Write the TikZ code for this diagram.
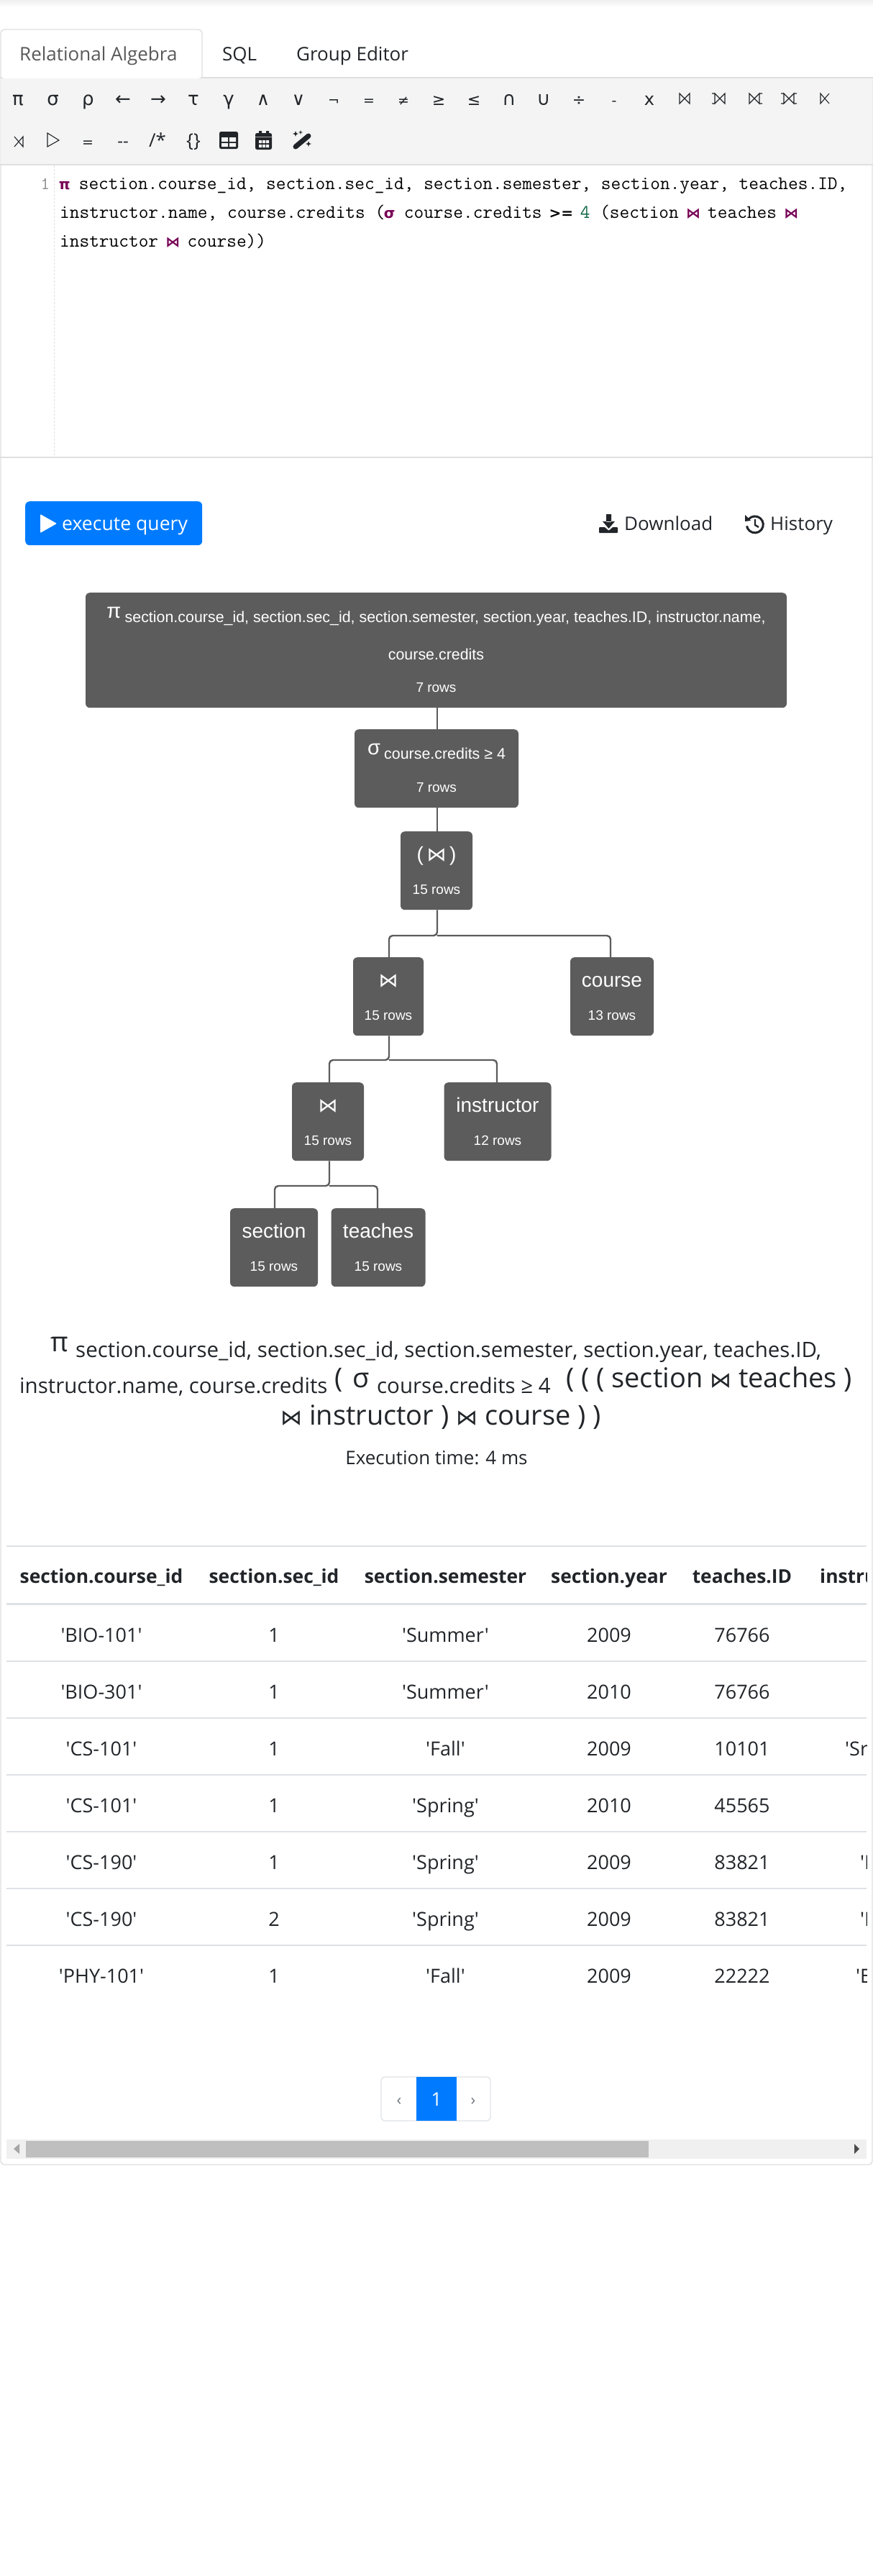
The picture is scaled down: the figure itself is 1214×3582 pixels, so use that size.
\documentclass[tikz,border=0pt]{standalone}
\usepackage{fontspec}
\usepackage{tikz}
\setmainfont{Open Sans}[Ligatures=TeXOff]
\newfontfamily\symfont{DejaVu Sans}
\newfontfamily\treefont{Liberation Sans}
\newcommand{\fs}[1]{\fontsize{#1}{#1}\selectfont}
\newcommand{\kw}[1]{\makebox[0.486em]{\textcolor{kwcolor}{\symfont\bfseries\fontsize{20}{20}\selectfont #1}}}
\newcommand{\oplabel}[2]{\rule{0pt}{41pt}#1\\#2\rule[-22pt]{0pt}{22pt}}
\newcommand{\opjoin}{{\symfont\fontsize{27}{46}\selectfont ⋈}}
\definecolor{kwcolor}{HTML}{770055}
\definecolor{numcolor}{HTML}{116644}
\definecolor{opcolor}{HTML}{5C5C5C}
\definecolor{btncolor}{HTML}{007BFF}
\definecolor{inkcolor}{HTML}{212529}
\definecolor{barcolor}{HTML}{F4F4F4}
\definecolor{edgecolor}{HTML}{DFDFDF}
\definecolor{rulecolor}{HTML}{DEE2E6}
\definecolor{pagecolor}{HTML}{6C757D}

\tikzset{
  txt/.style={anchor=base, inner sep=0pt, text=inkcolor, font=\fs{26}},
  txtl/.style={txt, anchor=base west},
  tool/.style={txt, font=\symfont\fs{26}},
  toolsmall/.style={txt, font=\symfont\fs{19}},
  code/.style={txtl, text=black, font=\ttfamily\fs{26.6}},
  opbox/.style={anchor=north, fill=opcolor, rounded corners=6pt, inner sep=0pt, text=white, align=center, font=\treefont\fontsize{19}{46}\selectfont},
  link/.style={draw=opcolor, line width=2.4pt, rounded corners=5pt},
  head/.style={txt, font=\bfseries\fs{26.4}},
  cell/.style={txt, font=\fs{27}},
  hline/.style={draw=rulecolor, line width=1.3pt},
  joinsym/.style={draw=inkcolor, line width=1.1pt},
  joininner/.pic={\draw[joinsym] (-7,-7) -- (-7,7) -- (7,-7) -- (7,7) -- cycle;},
  joinleft/.pic={\draw[joinsym] (-7,-7) -- (-7,7) -- (7,-7) -- (7,7) -- cycle (-11,-7) -- (-7,-7) (-11,7) -- (-7,7);},
  joinright/.pic={\draw[joinsym] (-7,-7) -- (-7,7) -- (7,-7) -- (7,7) -- cycle (11,-7) -- (7,-7) (11,7) -- (7,7);},
  joinfull/.pic={\draw[joinsym] (-7,-7) -- (-7,7) -- (7,-7) -- (7,7) -- cycle (-11,-7) -- (-7,-7) (-11,7) -- (-7,7) (11,-7) -- (7,-7) (11,7) -- (7,7);},
  semileft/.pic={\draw[joinsym] (6,-7) -- (-6,7) -- (-6,-7) -- (6,7);},
  semiright/.pic={\draw[joinsym] (-6,-7) -- (6,7) -- (6,-7) -- (-6,7);},
  sparkle/.pic={\fill[inkcolor] (0,-4) -- (1,-1) -- (4,0) -- (1,1) -- (0,4) -- (-1,1) -- (-4,0) -- (-1,-1) -- cycle;}
}

\begin{document}
\begin{tikzpicture}[x=1pt,y=-1pt]
\useasboundingbox (0,0) rectangle (1214,3582);
% page frame
\shade[top color=black!6, bottom color=white] (0,0) rectangle (1214,10);
\draw[edgecolor, line width=1.4pt, rounded corners=5pt] (1,108) -- (1,3010) -- (1213,3010) -- (1213,108);
\fill[barcolor] (1,108) rectangle (1213,228);
\draw[edgecolor, line width=1.4pt] (0,108) -- (1214,108) (0,229) -- (1214,229);
\fill[white, rounded corners=5pt] (1,41) -- (1,109) -- (281,109) -- (281,41) -- cycle;
\draw[edgecolor, line width=1.4pt, rounded corners=5pt] (1,108) -- (1,41) -- (281,41) -- (281,108);
\node[txtl, text=black!65] (tab1) at (27,84) {Relational Algebra};
\node[txtl] (tab2) at (309,84) {SQL};
\node[txtl] (tab3) at (412,84) {Group Editor};

% toolbar, first row
\node[tool] (t1) at (25,146) {π};
\node[tool] (t2) at (73.6,146) {σ};
\node[tool] (t3) at (122.4,146) {ρ};
\node[tool] (t4) at (171,146) {←};
\node[tool] (t5) at (220,146) {→};
\node[tool] (t6) at (269,146) {τ};
\node[tool] (t7) at (318,146) {γ};
\node[toolsmall, font=\symfont\fs{25}] (t8) at (366,146) {∧};
\node[toolsmall, font=\symfont\fs{25}] (t9) at (415,146) {∨};
\node[toolsmall] (t10) at (464,146) {¬};
\node[toolsmall] (t11) at (513,146) {=};
\node[toolsmall] (t12) at (561,146) {≠};
\node[toolsmall, font=\symfont\fs{22}] (t13) at (610,146) {≥};
\node[toolsmall, font=\symfont\fs{22}] (t14) at (659,146) {≤};
\node[tool] (t15) at (708,146) {∩};
\node[tool] (t16) at (756,146) {∪};
\node[toolsmall, font=\symfont\fs{22}] (t17) at (805,146) {÷};
\node[toolsmall] (t18) at (854,146) {-};
\node[toolsmall, font=\symfont\fs{24}] (t19) at (903,146) {x};
\pic at (952,137) {joininner};
\pic at (1001,137) {joinleft};
\pic at (1049,137) {joinright};
\pic at (1097,137) {joinfull};
\pic at (1147,137) {semileft};

% toolbar, second row
\pic at (26,197) {semiright};
\draw[inkcolor, line width=1.1pt] (66,185) -- (82,195) -- (66,204) -- cycle;
\node[toolsmall] (t20) at (122,204) {=};
\node[toolsmall, font=\fs{24}] (t21) at (171,204) {--};
\node[tool, font=\fs{26}] (t22) at (219,204) {/*};
\node[tool, font=\fs{26}] (t23) at (269,204) {\{\}};
% table icon
\fill[inkcolor, rounded corners=2.5pt] (305,183) rectangle (331,207);
\fill[barcolor] (308,191) rectangle (317,197) (319,191) rectangle (328,197) (308,199) rectangle (317,204) (319,199) rectangle (328,204);
% calendar icon
\fill[inkcolor, rounded corners=2.5pt] (355,185) rectangle (378,208);
\fill[inkcolor] (360,182) rectangle (364,187) (370,182) rectangle (374,187);
\draw[black!35, line width=1pt] (355,190) -- (378,190);
\fill[barcolor] (360,195) rectangle (364,199) (365,195) rectangle (369,199) (370,195) rectangle (374,199) (360,201) rectangle (364,205) (365,201) rectangle (369,205) (370,201) rectangle (374,205);
% wand icon
\draw[inkcolor, line width=7pt, line cap=round] (411,204) -- (429,189);
\pic at (411,186) {sparkle};
\pic[scale=0.7] at (418,184) {sparkle};
\pic at (429,200) {sparkle};

% editor
\draw[edgecolor, densely dashed, line width=0.8pt] (75,230) -- (75,635);
\draw[edgecolor, line width=1.4pt] (0,636) -- (1214,636);
\node[txt, text=black!45, font=\ttfamily\fs{24.5}] (gutter) at (63,263) {1};
\node[code] (line1) at (83,263) {\kw{π} section.course\_id, section.sec\_id, section.semester, section.year, teaches.ID,};
\node[code] (line2) at (83,303) {instructor.name, course.credits (\kw{σ} course.credits \makebox[0.97em]{\symfont\bfseries\fontsize{20}{20}\selectfont >=} \textcolor{numcolor}{4} (section \kw{⋈} teaches \kw{⋈}};
\node[code] (line3) at (83,343) {instructor \kw{⋈} course))};

% buttons
\node[anchor=north west, fill=btncolor, rounded corners=6pt, minimum width=246pt, minimum height=61pt, inner sep=0pt] (run) at (35,697) {};
\fill[white, rounded corners=1pt] (56,715) -- (79,728) -- (56,741) -- cycle;
\node[txtl, text=white, font=\fs{26.6}] (runtext) at (86,737) {execute query};
% download icon
\fill[inkcolor] (843,715) rectangle (850,726) (838,725) -- (855,725) -- (846.5,735) -- cycle;
\fill[inkcolor, rounded corners=1pt] (833,733) -- (841,733) -- (846.5,738) -- (852,733) -- (859,733) -- (859,741) -- (833,741) -- cycle;
\node[txtl] (download) at (868,737) {Download};
% history icon
\draw[inkcolor, line width=3pt] (1041,722) arc[start angle=-140, end angle=170, radius=11.5];
\fill[inkcolor] (1036,716) -- (1044,724) -- (1036,725) -- cycle;
\draw[inkcolor, line width=2.4pt] (1050,722) -- (1050,730) -- (1055,733);
\node[txtl] (history) at (1071,737) {History};

% operator tree
\node[opbox, minimum width=975pt] (root) at (606.5,824) {\rule{0pt}{41pt}\raisebox{6pt}{\fontsize{29}{46}\selectfont π} {\fontsize{21.4}{46}\selectfont section.course\_id, section.sec\_id, section.semester, section.year, teaches.ID, instructor.name,}\\[6pt]\fontsize{21.4}{46}\selectfont course.credits\\[-1pt]\fontsize{19}{46}\selectfont 7 rows\rule[-22pt]{0pt}{22pt}};
\node[opbox, minimum width=228pt] (sigma) at (607,1014) {\rule{0pt}{41pt}\raisebox{6pt}{\fontsize{29}{46}\selectfont σ} {\fontsize{21.4}{46}\selectfont course.credits ≥ 4}\\7 rows\rule[-22pt]{0pt}{22pt}};
\node[opbox, minimum width=100pt] (j1) at (607,1156) {\oplabel{{\fontsize{28}{46}\selectfont (\,\opjoin\,)}}{15 rows}};
\node[opbox, minimum width=98pt] (j2) at (540,1331) {\oplabel{\opjoin}{15 rows}};
\node[opbox, minimum width=116pt] (course) at (851,1331) {\oplabel{{\fontsize{28}{46}\selectfont course}}{13 rows}};
\node[opbox, minimum width=100pt] (j3) at (456,1505) {\oplabel{\opjoin}{15 rows}};
\node[opbox, minimum width=149pt] (instructor) at (692,1505) {\oplabel{{\fontsize{28}{46}\selectfont instructor}}{12 rows}};
\node[opbox, minimum width=122pt] (section) at (381,1680) {\oplabel{{\fontsize{28}{46}\selectfont section}}{15 rows}};
\node[opbox, minimum width=131pt] (teaches) at (526,1680) {\oplabel{{\fontsize{28}{46}\selectfont teaches}}{15 rows}};

\coordinate (bar1) at (608,1301);
\coordinate (bar2) at (541,1474);
\coordinate (bar3) at (458,1649);

\path[link] (bar1 |- root.south) -- (bar1 |- sigma.north);
\path[link] (bar1 |- sigma.south) -- (bar1 |- j1.north);
\path[link] (bar1 |- j1.south) -- (bar1) -| (bar2 |- j2.north);
\path[link] (bar1) -| ([xshift=-2pt]course.north);
\path[link] (bar2 |- j2.south) -- (bar2) -| (bar3 |- j3.north);
\path[link] (bar2) -| ([xshift=-1pt]instructor.north);
\path[link] (bar3 |- j3.south) -- (bar3) -| ([xshift=1pt]section.north);
\path[link] (bar3) -| ([xshift=-1pt]teaches.north);

% query as text
\node[txtl, font=\fs{38}] (f1) at (70,1879) {π};
\node[txtl, font=\fs{29.5}] (f2) at (105,1887) {section.course\_id, section.sec\_id, section.semester, section.year, teaches.ID,};
\node[txtl, font=\fs{29.5}] (f3) at (27,1937) {instructor.name, course.credits};
\node[txtl, font=\fs{38}] (f4) at (465,1929) {(};
\node[txtl, font=\fs{38}] (f5) at (490,1929) {σ};
\node[txtl, font=\fs{29.5}] (f6) at (524,1937) {course.credits ≥ 4};
\node[txtl, font=\fs{38}] (f7) at (787,1929) {( ( ( section {\symfont\fs{30}⋈} teaches )};
\node[txtl, font=\fs{38}] (f8) at (390,1981) {{\symfont\fs{30}⋈} instructor ) {\symfont\fs{30}⋈} course ) )};
\node[txt] (f9) at (607,2036) {Execution time: 4 ms};

% result table
\path[hline] (9,2150) -- (1205,2150);
\draw[rulecolor, line width=3pt] (9,2230) -- (1205,2230);
\path[hline] (9,2310) -- (1205,2310);
\path[hline] (9,2389) -- (1205,2389);
\path[hline] (9,2468) -- (1205,2468);
\path[hline] (9,2547) -- (1205,2547);
\path[hline] (9,2626) -- (1205,2626);
\path[hline] (9,2705) -- (1205,2705);

\node[head] (h1) at (141,2201) {section.course\_id};
\node[head] (h2) at (381,2201) {section.sec\_id};
\node[head] (h3) at (619.5,2201) {section.semester};
\node[head] (h4) at (847,2201) {section.year};
\node[head] (h5) at (1032,2201) {teaches.ID};

\node[cell] (c11) at (141,2283) {'BIO-101'};
\node[cell] (c12) at (381,2283) {1};
\node[cell] (c13) at (619.5,2283) {'Summer'};
\node[cell] (c14) at (847,2283) {2009};
\node[cell] (c15) at (1032,2283) {76766};
\node[cell] (c21) at (141,2362) {'BIO-301'};
\node[cell] (c22) at (381,2362) {1};
\node[cell] (c23) at (619.5,2362) {'Summer'};
\node[cell] (c24) at (847,2362) {2010};
\node[cell] (c25) at (1032,2362) {76766};
\node[cell] (c31) at (141,2441) {'CS-101'};
\node[cell] (c32) at (381,2441) {1};
\node[cell] (c33) at (619.5,2441) {'Fall'};
\node[cell] (c34) at (847,2441) {2009};
\node[cell] (c35) at (1032,2441) {10101};
\node[cell] (c41) at (141,2520) {'CS-101'};
\node[cell] (c42) at (381,2520) {1};
\node[cell] (c43) at (619.5,2520) {'Spring'};
\node[cell] (c44) at (847,2520) {2010};
\node[cell] (c45) at (1032,2520) {45565};
\node[cell] (c51) at (141,2599) {'CS-190'};
\node[cell] (c52) at (381,2599) {1};
\node[cell] (c53) at (619.5,2599) {'Spring'};
\node[cell] (c54) at (847,2599) {2009};
\node[cell] (c55) at (1032,2599) {83821};
\node[cell] (c61) at (141,2678) {'CS-190'};
\node[cell] (c62) at (381,2678) {2};
\node[cell] (c63) at (619.5,2678) {'Spring'};
\node[cell] (c64) at (847,2678) {2009};
\node[cell] (c65) at (1032,2678) {83821};
\node[cell] (c71) at (141,2757) {'PHY-101'};
\node[cell] (c72) at (381,2757) {1};
\node[cell] (c73) at (619.5,2757) {'Fall'};
\node[cell] (c74) at (847,2757) {2009};
\node[cell] (c75) at (1032,2757) {22222};

% last column runs out of the frame
\begin{scope}
\clip (1100,2150) rectangle (1205,2800);
\node[head, anchor=base west] (h6) at (1140,2201) {instru};
\node[cell, anchor=base west] (c36) at (1175,2441) {'Sr};
\node[cell, anchor=base west] (c56) at (1196,2599) {'I};
\node[cell, anchor=base west] (c66) at (1196,2678) {'I};
\node[cell, anchor=base west] (c76) at (1190,2757) {'E};
\end{scope}

% pagination
\draw[rulecolor, line width=1.3pt, rounded corners=5pt] (530,2888) rectangle (682,2949);
\node[anchor=north west, fill=btncolor, minimum width=56pt, minimum height=61pt, inner sep=0pt] (page) at (579,2888) {};
\node[txt, text=white] (pagenum) at (607,2928) {1};
\node[txt, text=pagecolor, font=\fs{22}] (prev) at (555,2927) {‹};
\node[txt, text=pagecolor, font=\fs{22}] (next) at (658,2927) {›};

% scrollbar
\fill[black!6] (9,2975) rectangle (1205,3002);
\fill[black!25] (36,2977) rectangle (902,3000);
\fill[black!35] (19,2988) -- (27,2981) -- (27,2995) -- cycle;
\fill[black!70] (1195,2988) -- (1188,2981) -- (1188,2995) -- cycle;
\end{tikzpicture}
\end{document}
